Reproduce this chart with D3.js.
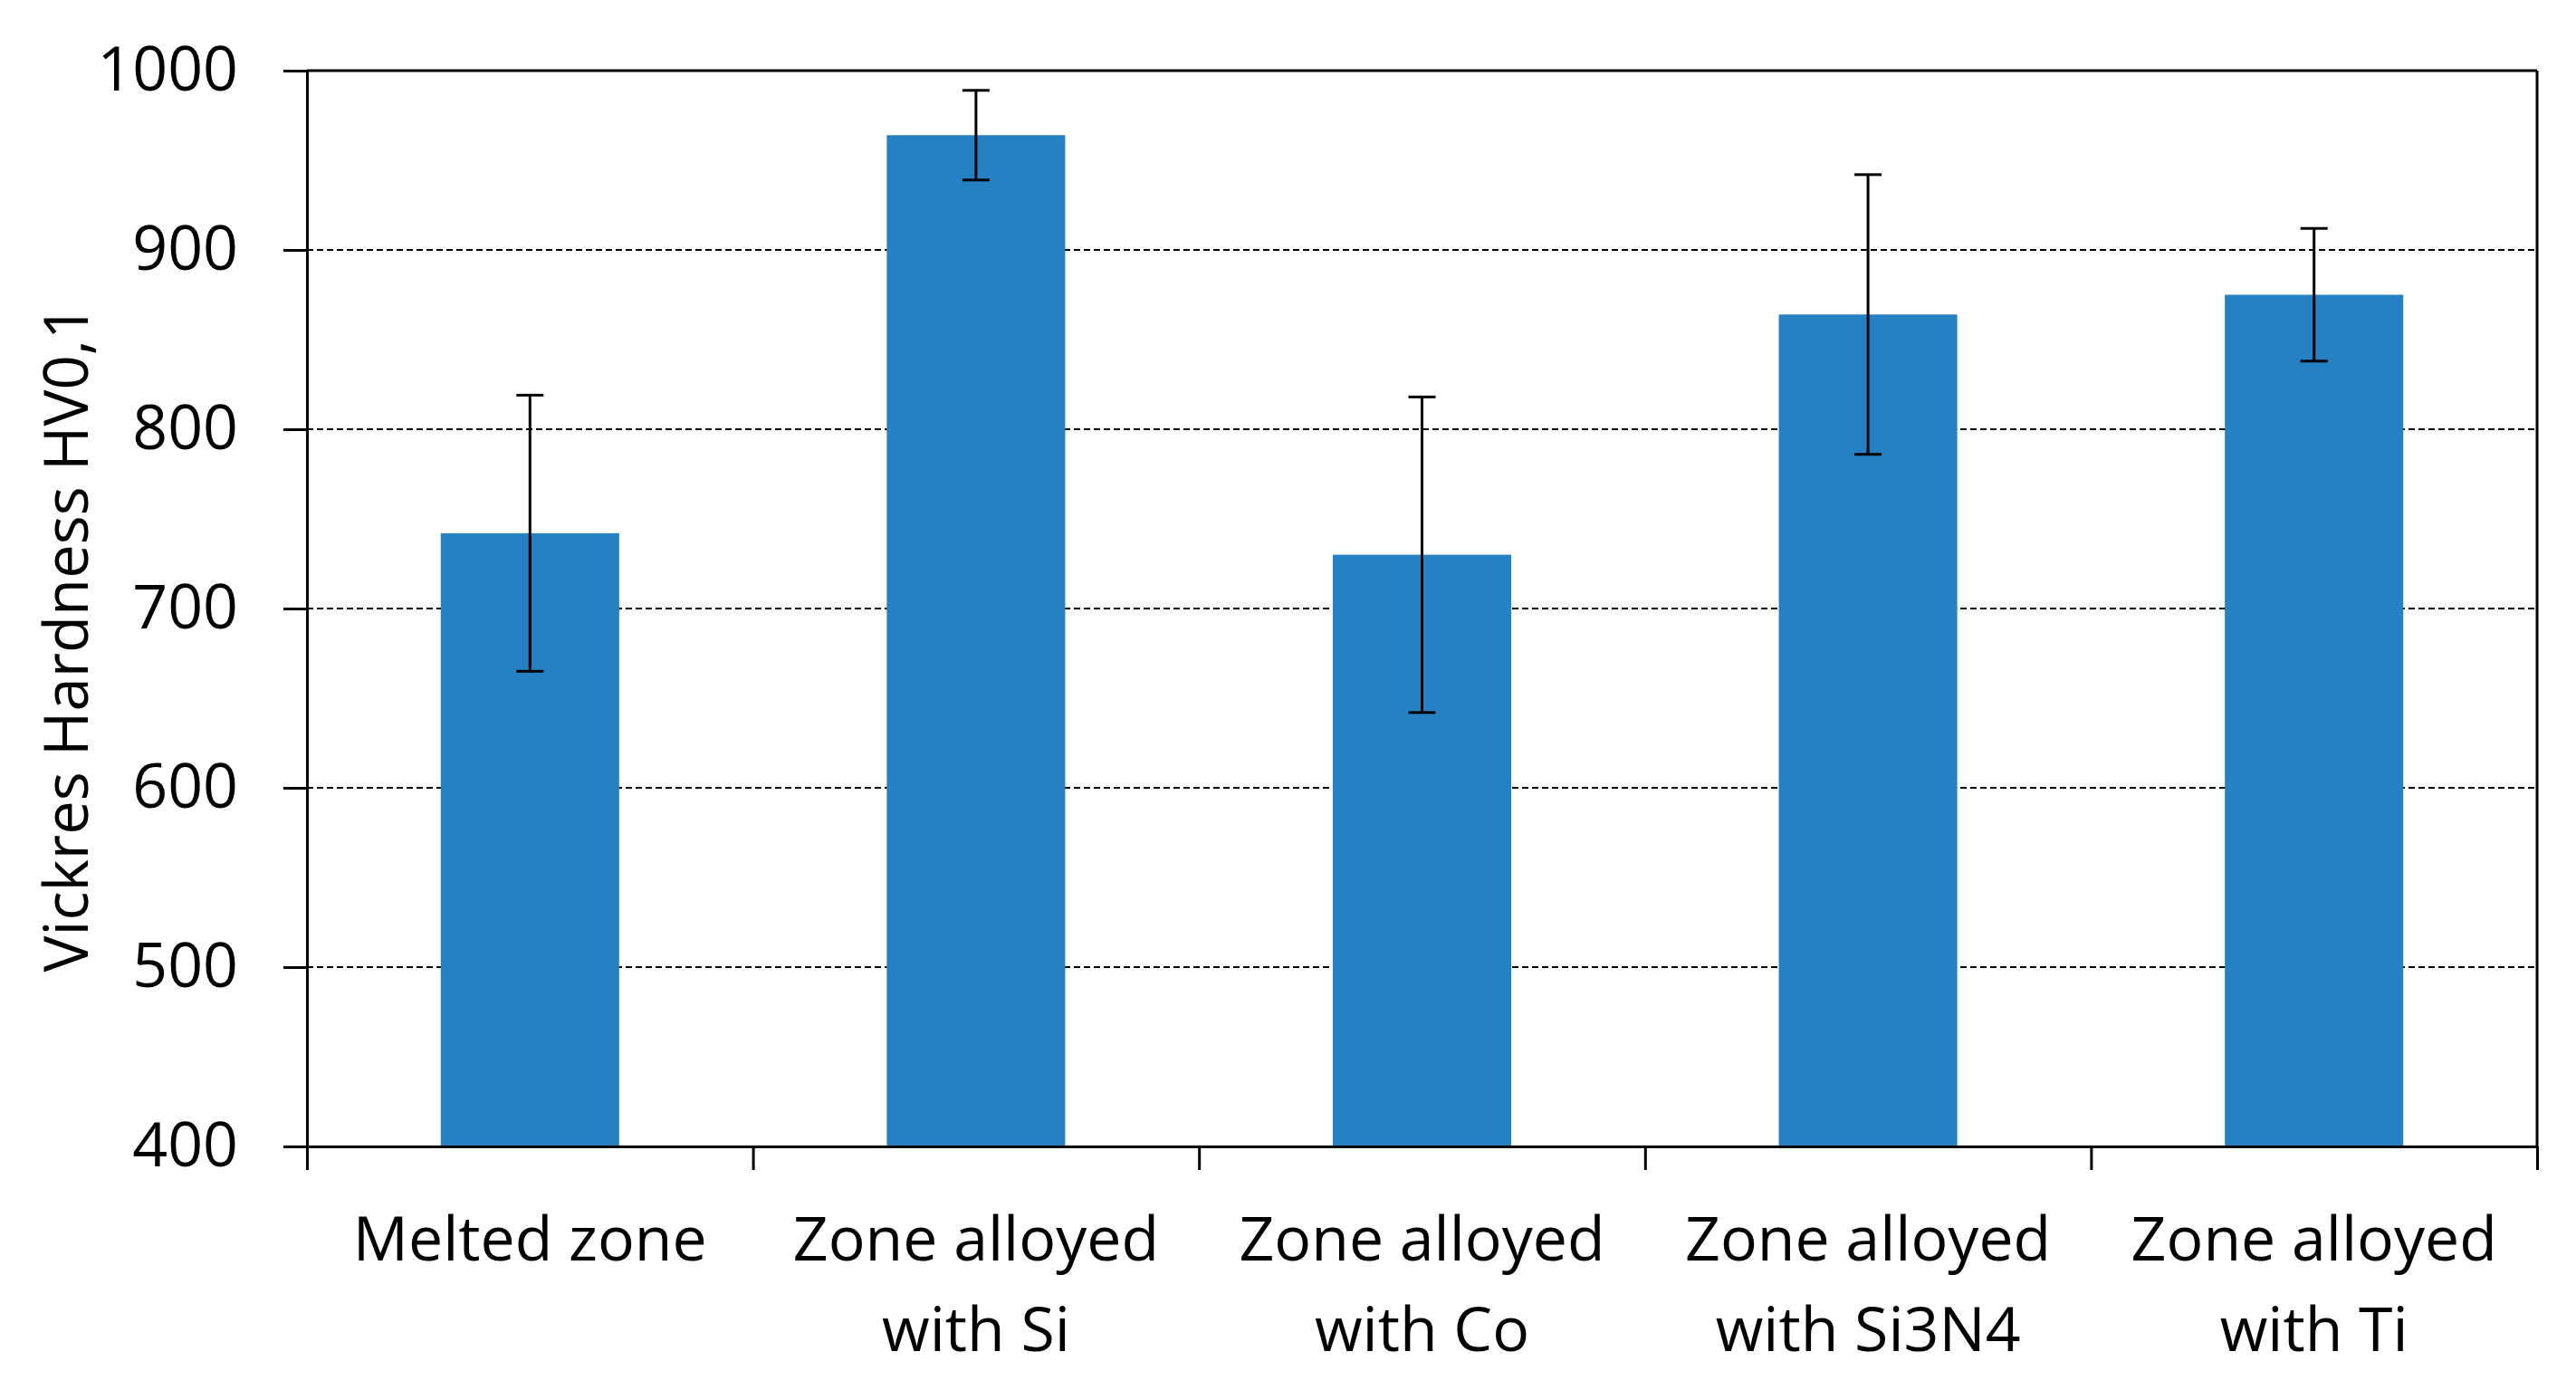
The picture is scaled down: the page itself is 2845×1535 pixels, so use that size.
<!DOCTYPE html>
<html>
<head>
<meta charset="utf-8">
<script src="https://cdn.jsdelivr.net/npm/d3@7"></script>
<style>
  html, body { margin: 0; padding: 0; background: #ffffff; }
  svg { display: block; }
  text { font-family: "Open Sans", "Noto Sans", sans-serif; fill: #000; }
</style>
</head>
<body>
<svg id="chart" width="2845" height="1535"></svg>
<script>
// ---- data ----
const categories = ["Melted zone", "Zone alloyed with Si", "Zone alloyed with Co", "Zone alloyed with Si3N4", "Zone alloyed with Ti"];
const categoryLines = [["Melted zone"], ["Zone alloyed", "with Si"], ["Zone alloyed", "with Co"], ["Zone alloyed", "with Si3N4"], ["Zone alloyed", "with Ti"]];
const hardness = [742, 964, 730, 864, 875];
const hardnessError = [77, 25, 88, 78, 37];
const yTicks = [400, 500, 600, 700, 800, 900, 1000];
const yTitle = "Vickres Hardness HV0,1";

(function () {
// ---- layout ----
const W = 2845, H = 1535;
const pLeft = 339, pRight = 2802, pTop = 78, pBottom = 1266;
const barColor = "#2581c2";

const svg = d3.select("#chart");
svg.append("rect").attr("width", W).attr("height", H).attr("fill", "#fff");

const x = d3.scaleBand().domain(categories).range([pLeft, pRight]).paddingInner(0.6).paddingOuter(0.3);
const xEdges = d3.scaleLinear().domain([0, categories.length]).range([pLeft, pRight]);
const y = d3.scaleLinear().domain([400, 1000]).range([pBottom, pTop]);

// gridlines
svg.append("g").selectAll("line")
  .data(yTicks.filter(t => t > 400 && t < 1000))
  .join("line")
  .attr("x1", pLeft).attr("x2", pRight)
  .attr("y1", d => y(d)).attr("y2", d => y(d))
  .attr("stroke", "#000").attr("stroke-width", 2)
  .attr("stroke-dasharray", "7,4");

// bars
svg.append("g").selectAll("rect")
  .data(categories)
  .join("rect")
  .attr("x", d => x(d))
  .attr("width", x.bandwidth())
  .attr("y", (d, i) => y(hardness[i]))
  .attr("height", (d, i) => y(400) - y(hardness[i]))
  .attr("fill", barColor);

// error bars
const eb = svg.append("g").attr("stroke", "#000").attr("stroke-width", 3);
categories.forEach((c, i) => {
  const cx = x(c) + x.bandwidth() / 2;
  const hi = y(hardness[i] + hardnessError[i]);
  const lo = y(hardness[i] - hardnessError[i]);
  eb.append("line").attr("x1", cx).attr("x2", cx).attr("y1", hi).attr("y2", lo);
  eb.append("line").attr("x1", cx - 15).attr("x2", cx + 15).attr("y1", hi).attr("y2", hi);
  eb.append("line").attr("x1", cx - 15).attr("x2", cx + 15).attr("y1", lo).attr("y2", lo);
});

// plot border (top and right)
svg.append("line").attr("x1", pLeft).attr("x2", pRight).attr("y1", pTop).attr("y2", pTop)
  .attr("stroke", "#000").attr("stroke-width", 3);
svg.append("line").attr("x1", pRight).attr("x2", pRight).attr("y1", pTop).attr("y2", pBottom)
  .attr("stroke", "#000").attr("stroke-width", 3);

// y axis
const yAxis = svg.append("g").attr("transform", `translate(${pLeft},0)`)
  .call(d3.axisLeft(y).tickValues(yTicks).tickSize(26).tickPadding(50).tickSizeOuter(0).tickFormat(d3.format("d")));
yAxis.select(".domain").attr("stroke", "#000").attr("stroke-width", 3);
yAxis.selectAll(".tick line").attr("stroke", "#000").attr("stroke-width", 3);
yAxis.selectAll(".tick text").attr("font-size", 68).attr("font-family", "'Open Sans', sans-serif").attr("fill", "#000");

// x axis (ticks at category boundaries)
const xAxis = svg.append("g").attr("transform", `translate(0,${pBottom})`)
  .call(d3.axisBottom(xEdges).tickValues(d3.range(categories.length + 1)).tickSize(26).tickSizeOuter(0).tickFormat(""));
xAxis.select(".domain").attr("stroke", "#000").attr("stroke-width", 3);
xAxis.selectAll(".tick line").attr("stroke", "#000").attr("stroke-width", 3);

// x labels
const lbl = svg.append("g").attr("font-size", 68).attr("text-anchor", "middle");
categories.forEach((c, i) => {
  const cx = x(c) + x.bandwidth() / 2;
  const t = lbl.append("text").attr("x", cx).attr("y", 1392);
  categoryLines[i].forEach((ln, j) => {
    t.append("tspan").attr("x", cx).attr("y", 1392 + j * 100).text(ln);
  });
});

// y title
svg.append("text")
  .attr("transform", `translate(97,705) rotate(-90)`)
  .attr("text-anchor", "middle")
  .attr("font-size", 67)
  .text(yTitle);
})();
</script>
</body>
</html>
